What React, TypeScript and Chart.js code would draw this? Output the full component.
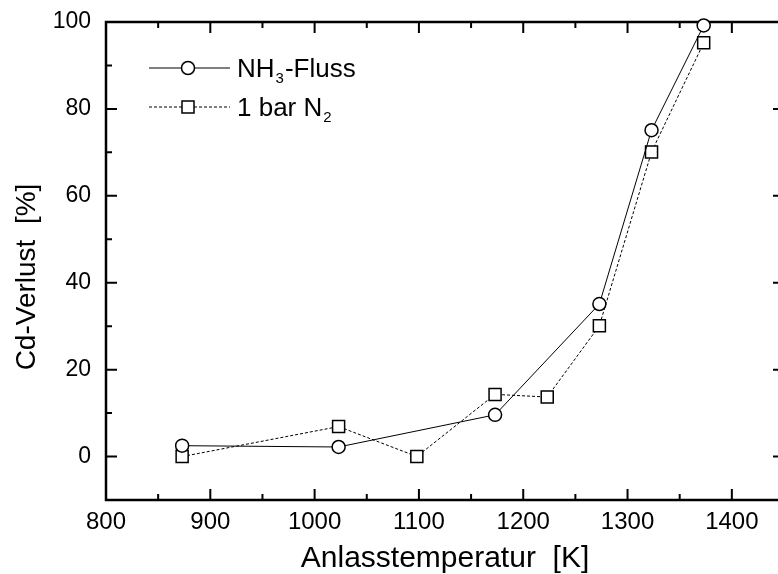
import React, { useEffect, useRef } from 'react';
import { Chart, registerables } from 'chart.js';

Chart.register(...registerables);

const nh3X = [873, 1023, 1173, 1273, 1323, 1373];
const nh3Y = [2.5, 2.2, 9.6, 35.1, 75.1, 99.2];
const n2X = [873, 1023, 1098, 1173, 1223, 1273, 1323, 1373];
const n2Y = [0, 6.9, 0, 14.3, 13.7, 30.1, 70.1, 95.2];
const xMajorTicks = [800, 900, 1000, 1100, 1200, 1300, 1400];
const xMinorTicks = [850, 950, 1050, 1150, 1250, 1350, 1450];
const yMajorTicks = [0, 20, 40, 60, 80, 100];
const yMinorTicks = [10, 30, 50, 70, 90];
const xTitle = 'Anlasstemperatur  [K]';
const yTitle = 'Cd-Verlust  [%]';
const legendEntries = [
  { main: 'NH', sub: '3', tail: '-Fluss', style: 'circle' },
  { main: '1 bar N', sub: '2', tail: '', style: 'rect' },
];

const FONT = '"Liberation Sans", Arial, sans-serif';

const framePlugin = {
  id: 'frame',
  beforeDatasetsDraw(chart: any) {
    const { ctx, chartArea: a, scales } = chart;
    const x = scales.x;
    const y = scales.y;
    ctx.save();
    ctx.strokeStyle = '#000';
    ctx.lineWidth = 2.5;
    ctx.strokeRect(a.left, a.top, a.right - a.left, a.bottom - a.top);
    ctx.beginPath();
    const tick = (vals: number[], len: number, horiz: boolean) => {
      vals.forEach((v) => {
        if (horiz) {
          const px = x.getPixelForValue(v);
          ctx.moveTo(px, a.bottom);
          ctx.lineTo(px, a.bottom - len);
          ctx.moveTo(px, a.top);
          ctx.lineTo(px, a.top + len);
        } else {
          const py = y.getPixelForValue(v);
          ctx.moveTo(a.left, py);
          ctx.lineTo(a.left + len, py);
          ctx.moveTo(a.right, py);
          ctx.lineTo(a.right - len, py);
        }
      });
    };
    tick(xMajorTicks, 11, true);
    tick(xMinorTicks, 6, true);
    tick(yMajorTicks, 11, false);
    tick(yMinorTicks, 6, false);
    ctx.lineWidth = 2;
    ctx.stroke();
    // y title
    ctx.fillStyle = '#000';
    ctx.font = `28px ${FONT}`;
    ctx.textAlign = 'center';
    ctx.textBaseline = 'middle';
    ctx.translate(27, 277);
    ctx.rotate(-Math.PI / 2);
    ctx.fillText(yTitle, 0, 0);
    ctx.restore();
  },
  afterDraw(chart: any) {
    const { ctx } = chart;
    ctx.save();
    const x0 = 149, x1 = 230, cx = 188, tx = 237;
    const ys = [68, 107];
    legendEntries.forEach((e, i) => {
      const yy = ys[i];
      ctx.strokeStyle = '#000';
      ctx.lineWidth = 1;
      ctx.setLineDash(e.style === 'circle' ? [] : [3, 2]);
      ctx.beginPath();
      ctx.moveTo(x0, yy);
      ctx.lineTo(x1, yy);
      ctx.stroke();
      ctx.setLineDash([]);
      ctx.lineWidth = 1.5;
      ctx.fillStyle = '#fff';
      ctx.beginPath();
      if (e.style === 'circle') {
        ctx.arc(cx, yy, 6.5, 0, Math.PI * 2);
      } else {
        ctx.rect(cx - 6, yy - 6, 12, 12);
      }
      ctx.fill();
      ctx.stroke();
      ctx.fillStyle = '#000';
      ctx.textAlign = 'left';
      ctx.textBaseline = 'alphabetic';
      ctx.font = `26px ${FONT}`;
      const base = yy + 9;
      ctx.fillText(e.main, tx, base);
      const w = ctx.measureText(e.main).width;
      ctx.font = `15px ${FONT}`;
      ctx.fillText(e.sub, tx + w + 1, base + 6);
      const ws = ctx.measureText(e.sub).width;
      ctx.font = `26px ${FONT}`;
      ctx.fillText(e.tail, tx + w + ws + 2, base);
    });
    ctx.restore();
  },
};

export default function App() {
  const ref = useRef<HTMLCanvasElement | null>(null);
  useEffect(() => {
    if (!ref.current) return;
    const chart = new Chart(ref.current, {
      type: 'line',
      data: {
        datasets: [
          {
            label: 'NH3-Fluss',
            data: nh3X.map((v, i) => ({ x: v, y: nh3Y[i] })),
            borderColor: '#000',
            borderWidth: 1,
            pointStyle: 'circle',
            pointRadius: 6.5,
            pointBackgroundColor: '#fff',
            pointBorderColor: '#000',
            pointBorderWidth: 1.5,
            clip: false,
            tension: 0,
          },
          {
            label: '1 bar N2',
            data: n2X.map((v, i) => ({ x: v, y: n2Y[i] })),
            borderColor: '#000',
            borderWidth: 1,
            borderDash: [3, 2],
            pointStyle: 'rect',
            pointRadius: 8.5,
            pointBackgroundColor: '#fff',
            pointBorderColor: '#000',
            pointBorderWidth: 1.5,
            clip: false,
            tension: 0,
          },
        ],
      },
      options: {
        responsive: false,
        animation: false,
        devicePixelRatio: 1,
        layout: { padding: { left: 0, right: 16, top: 22, bottom: 0 } },
        plugins: { legend: { display: false }, tooltip: { enabled: false } },
        scales: {
          x: {
            type: 'linear',
            min: 800,
            max: 1450,
            afterBuildTicks: (s: any) => {
              s.ticks = xMajorTicks.map((v) => ({ value: v }));
            },
            afterFit: (s: any) => {
              s.height = 74;
            },
            grid: { display: false, drawTicks: true, tickLength: 8 },
            border: { display: false },
            ticks: {
              color: '#000',
              font: { family: FONT, size: 24 },
              padding: 0,
              maxRotation: 0,
              autoSkip: false,
              callback: (v: any) => String(v),
            },
            title: {
              display: true,
              text: xTitle,
              color: '#000',
              font: { family: FONT, size: 30, lineHeight: 1 },
              padding: 0,
            },
          },
          y: {
            type: 'linear',
            min: -10,
            max: 100,
            afterBuildTicks: (s: any) => {
              s.ticks = yMajorTicks.map((v) => ({ value: v }));
            },
            afterFit: (s: any) => {
              s.width = 106;
            },
            grid: { display: false, drawTicks: true, tickLength: 15 },
            border: { display: false },
            ticks: {
              color: '#000',
              font: { family: FONT, size: 23 },
              padding: 0,
              autoSkip: false,
              callback: (v: any) => String(v),
            },
          },
        },
      },
      plugins: [framePlugin],
    } as any);
    return () => chart.destroy();
  }, []);
  return (
    <div style={{ position: 'fixed', left: 0, top: 0, width: 778, height: 574, overflow: 'hidden', background: '#fff' }}>
      <canvas ref={ref} width={800} height={574} style={{ display: 'block' }} />
    </div>
  );
}
